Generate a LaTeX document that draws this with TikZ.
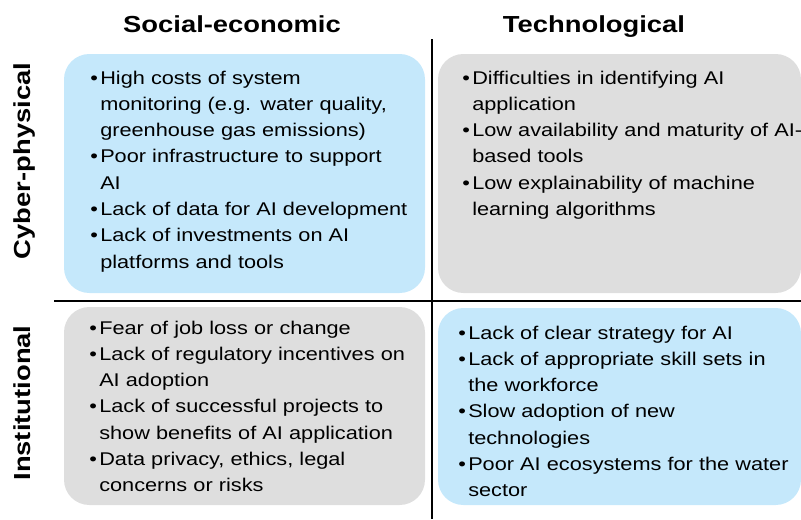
\documentclass[tikz,border=0pt]{standalone}
\usepackage{fontspec}
\setmainfont{Liberation Sans}[FakeStretch=1.18]
\usetikzlibrary{fit}
\definecolor{panelblue}{HTML}{C5E8FB}
\definecolor{panelgrey}{HTML}{DEDEDE}
\hyphenpenalty=10000
\newlength\bulletgap
\setlength\bulletgap{7.5pt}
% line break inside one bullet point, continuing under the text
\newcommand\nl{\hfil\penalty-10000\hspace*{\bulletgap}}
% one bullet point
\newcommand\pitem[1]{\par\noindent
  \hbox to\bulletgap{\strut\textbullet\hss}#1}
\begin{document}
\begin{tikzpicture}[x=0.75pt,y=-0.75pt,
  panel/.style={draw=none, rounded corners=19pt, inner sep=0pt},
  bluepanel/.style={panel, fill=panelblue},
  greypanel/.style={panel, fill=panelgrey},
  colhead/.style={anchor=base, inner sep=0pt, font=\fontsize{17.4}{20}\bfseries\selectfont},
  rowhead/.style={colhead, rotate=90},
  items/.style={anchor=north west, inner sep=0pt, align=left, text width=300pt,
    font=\fontsize{13.8}{19.7}\selectfont},
  divider/.style={line width=1.6pt}
]
\useasboundingbox (0,0) rectangle (801,519);

% quadrant panels
\node[bluepanel, fit={(64,54) (425,293)}] (cpse) {};
\node[greypanel, fit={(438,54) (801,293)}] (cpte) {};
\node[greypanel, fit={(64,307) (425,505)}] (inse) {};
\node[bluepanel, fit={(438,308) (801,505)}] (inte) {};

% dividing lines
\coordinate (vtop) at (432,39);
\coordinate (vbot) at (432,519);
\coordinate (hleft) at (54,301);
\coordinate (hright) at (801,301);
\draw[divider] (vtop) -- (vbot);
\draw[divider] (hleft) -- (hright);

% column and row headings
\node[colhead] (hse) at (232,32) {Social-economic};
\node[colhead] (hte) at (594,32) {Technological};
\node[rowhead] (hcp) at (31,161) {Cyber-physical};
\node[rowhead] (hin) at (31,403) {Institutional};

% panel contents
\node[items] (tcpse) at (90,57.6) {%
  \pitem{High costs of system\nl monitoring (e.g. water quality,\nl greenhouse gas emissions)}
  \pitem{Poor infrastructure to support\nl AI}
  \pitem{Lack of data for AI development}
  \pitem{Lack of investments on AI\nl platforms and tools}};

\node[items] (tcpte) at (462,57.6) {%
  \pitem{Difficulties in identifying AI\nl application}
  \pitem{Low availability and maturity of AI-\nl based tools}
  \pitem{Low explainability of machine\nl learning algorithms}};

\node[items] (tinse) at (89,307.6) {%
  \pitem{Fear of job loss or change}
  \pitem{Lack of regulatory incentives on\nl AI adoption}
  \pitem{Lack of successful projects to\nl show benefits of AI application}
  \pitem{Data privacy, ethics, legal\nl concerns or risks}};

\node[items] (tinte) at (458,312.6) {%
  \pitem{Lack of clear strategy for AI}
  \pitem{Lack of appropriate skill sets in\nl the workforce}
  \pitem{Slow adoption of new\nl technologies}
  \pitem{Poor AI ecosystems for the water\nl sector}};
\end{tikzpicture}
\end{document}
